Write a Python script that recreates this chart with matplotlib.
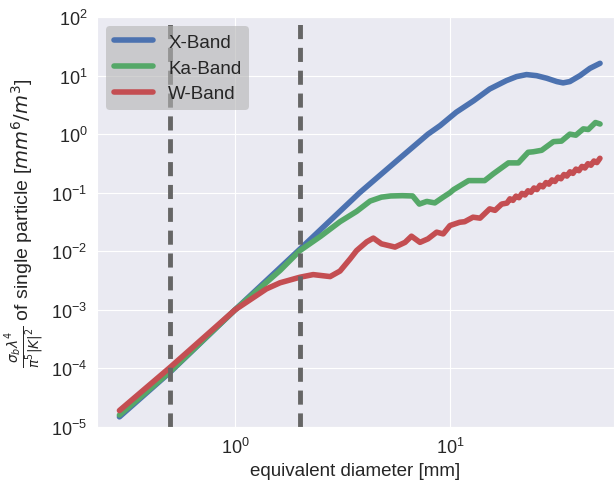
import matplotlib
matplotlib.use('Agg')
import matplotlib.pyplot as plt
import seaborn as sns

sns.set_style('darkgrid')
plt.rcParams['font.family'] = ['Liberation Sans', 'DejaVu Sans']

# equivalent diameter [mm] and normalised backscatter for each band
d_x = [0.29, 0.5, 1.0, 2.0, 3.8, 5.85, 7.9, 9.0, 10.7, 12.9, 15.3, 18.3, 20.4,
       22.7, 25.3, 28.2, 31.4, 33.6, 36.1, 40.2, 44.8, 49.9]
x_band = [1.49e-5, 8.7e-5, 1.0e-3, 0.0108, 0.1, 0.39, 1.0, 1.4, 2.37, 3.73,
          5.9, 8.2, 9.6, 10.4, 9.96, 9.0, 7.9, 7.5, 7.9, 9.96, 13.3, 16.2]

d_ka = [0.29, 0.5, 1.0, 1.62, 2.0, 2.5, 3.08, 3.68, 4.25, 4.8, 5.3, 6.0, 6.7,
        7.2, 7.8, 8.5, 9.3, 10.0, 10.4, 12.2, 14.5, 15.9, 18.7, 20.8, 23.1,
        24.4, 26.7, 30.3, 33.0, 36.1, 38.5, 41.7, 44.0, 47.5, 49.9]
ka_band = [1.6e-5, 8.9e-5, 1.0e-3, 0.0047, 0.0102, 0.018, 0.032, 0.048, 0.072,
           0.084, 0.088, 0.089, 0.088, 0.064, 0.071, 0.067, 0.084, 0.100,
           0.113, 0.161, 0.161, 0.21, 0.323, 0.323, 0.49, 0.50, 0.53, 0.745,
           0.76, 1.0, 0.96, 1.23, 1.20, 1.58, 1.49]

d_w = [0.29, 0.5, 1.0, 1.4, 1.62, 2.0, 2.31, 2.77, 3.08, 3.43, 3.68, 4.1,
       4.4, 4.8, 5.55, 6.18, 6.62, 7.25, 7.9, 8.67, 9.3, 10.0, 11.1, 11.7,
       12.8, 13.8, 15.3, 16.2, 17.4,
       18.41, 19.01, 19.63, 20.28, 20.94, 21.62, 22.33, 23.06, 23.81, 24.59,
       25.39, 26.22, 27.07, 27.96, 28.87, 29.81, 30.78, 31.79, 32.83, 33.90,
       35.00, 36.15, 37.33, 38.55, 39.80, 41.11, 42.44, 43.83, 45.26, 46.73,
       48.26, 49.84]
w_band = [1.91e-5, 1.05e-4, 1.0e-3, 0.00228, 0.0029, 0.0036, 0.0040, 0.0037,
          0.0046, 0.0074, 0.0103, 0.0145, 0.0168, 0.0134, 0.0118, 0.0142,
          0.0181, 0.0142, 0.0163, 0.0212, 0.0198, 0.0275, 0.0313, 0.032,
          0.0382, 0.0368, 0.053, 0.050, 0.064,
          0.0665, 0.0787, 0.0740, 0.0875, 0.0822, 0.0973, 0.0914, 0.108,
          0.1016, 0.1205, 0.1132, 0.134, 0.1259, 0.149, 0.140, 0.1656,
          0.1556, 0.184, 0.173, 0.2046, 0.1923, 0.2275, 0.2138, 0.253,
          0.2377, 0.281, 0.2642, 0.313, 0.2944, 0.348, 0.327, 0.387]

limits = [0.5, 2.0]
x_ticks = [1.0, 10.0]
y_ticks = [1e-5, 1e-4, 1e-3, 1e-2, 1e-1, 1e0, 1e1, 1e2]

fig = plt.figure(figsize=(6.14, 4.81), dpi=100)
ax = fig.add_axes([97 / 614, 53 / 481, 517 / 614, 410 / 481])

ax.plot(d_x, x_band, color='#4C72B0', lw=4, label='X-Band')
ax.plot(d_ka, ka_band, color='#55A868', lw=4, label='Ka-Band')
ax.plot(d_w, w_band, color='#C44E52', lw=4, label='W-Band')

for lim in limits:
    ax.axvline(lim, color='0.4', lw=3.5, dashes=(2.9, 1.8))

ax.set_xscale('log')
ax.set_yscale('log')
ax.set_xticks(x_ticks)
ax.set_yticks(y_ticks)
ax.set_xlim(10 ** -0.642, 10 ** 1.763)
ax.set_ylim(1e-5, 1e2)
ax.minorticks_off()
ax.tick_params(labelsize=13, colors='0.15')

ax.set_xlabel('equivalent diameter [mm]', fontsize=13.5, color='0.15')
ax.set_ylabel(r'$\frac{\sigma_b \lambda^4}{\pi^5 |K|^2}$ of single particle [$mm^6/m^3$]',
              fontsize=14, color='0.15')

leg = ax.legend(loc='upper left', fontsize=13.5, frameon=True, facecolor='0.7',
                framealpha=0.6, edgecolor='none', handlelength=2.1,
                labelspacing=0.45)

fig.savefig('out.png', dpi=100)
